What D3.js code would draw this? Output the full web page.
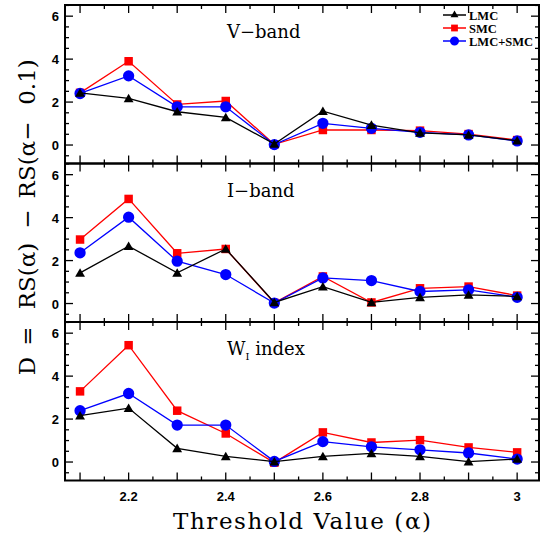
<!DOCTYPE html>
<html>
<head>
<meta charset="utf-8">
<script src="https://cdn.jsdelivr.net/npm/d3@7"></script>
<style>
  body { margin: 0; background: #fff; }
  svg { display: block; }
</style>
</head>
<body>
<svg id="chart" width="540" height="537"></svg>
<script>
// threshold values on the x axis
const alphas = [2.1, 2.2, 2.3, 2.4, 2.5, 2.6, 2.7, 2.8, 2.9, 3.0];
const xTickLabels = [2.2, 2.4, 2.6, 2.8, 3];
const yTickLabels = [0, 2, 4, 6];

// V-band
const vLMC = [2.43, 2.17, 1.55, 1.29, 0.05, 1.58, 0.93, 0.57, 0.47, 0.2];
const vSMC = [2.43, 3.9, 1.89, 2.05, 0.03, 0.7, 0.7, 0.67, 0.51, 0.23];
const vAll = [2.4, 3.22, 1.78, 1.78, 0.02, 1.01, 0.78, 0.59, 0.47, 0.19];

// I-band
const iLMC = [1.43, 2.67, 1.43, 2.54, 0.05, 0.79, 0.05, 0.29, 0.4, 0.33];
const iSMC = [2.98, 4.87, 2.34, 2.54, 0.03, 1.26, 0.05, 0.71, 0.79, 0.37];
const iAll = [2.36, 4.02, 1.97, 1.35, 0.02, 1.19, 1.07, 0.56, 0.64, 0.29];

// W_I index
const wLMC = [2.16, 2.51, 0.64, 0.26, 0.02, 0.26, 0.4, 0.26, 0.02, 0.14];
const wSMC = [3.29, 5.44, 2.39, 1.33, -0.03, 1.38, 0.91, 1.02, 0.68, 0.45];
const wAll = [2.39, 3.19, 1.72, 1.72, 0.03, 0.95, 0.71, 0.57, 0.42, 0.14];

const seriesNames = ["LMC", "SMC", "LMC+SMC"];

const panels = [
  { label: "V\u2212band", top: 5, lmc: vLMC, smc: vSMC, all: vAll },
  { label: "I\u2212band", top: 163.5, lmc: iLMC, smc: iSMC, all: iAll },
  { label: "W", sub: "I", rest: " index", top: 322, lmc: wLMC, smc: wSMC, all: wAll }
];

const svg = d3.select("#chart");
const left = 65, right = 539, ph = 158.5;

let x = d3.scaleLinear().domain([2.069, 3.045]).range([left, right]);

const sym = {
  LMC: d3.symbol().type(d3.symbolTriangle).size(42),
  SMC: d3.symbol().type(d3.symbolSquare).size(72),
  "LMC+SMC": d3.symbol().type(d3.symbolCircle).size(100)
};
const col = { LMC: "#000", SMC: "#ff0000", "LMC+SMC": "#0000ff" };

panels.forEach(function (p, i) {
  let y = d3.scaleLinear().domain([-0.86, 6.52]).range([p.top + ph, p.top]);
  let g = svg.append("g");

  // ticks, all pointing inward
  let tk = g.append("g").attr("stroke", "#000").attr("stroke-width", 1.3);
  d3.range(-0.5, 6.51, 0.5).forEach(function (v) {
    let major = Math.abs(v % 2) < 1e-6;
    let len = major ? 8 : 4;
    tk.append("line").attr("x1", left).attr("x2", left + len).attr("y1", y(v)).attr("y2", y(v));
    tk.append("line").attr("x1", right).attr("x2", right - len).attr("y1", y(v)).attr("y2", y(v));
  });
  d3.range(2.1, 3.04, 0.05).forEach(function (v) {
    let major = Math.abs(Math.round(v * 20) % 2) === 0;
    let len = major ? 8 : 4;
    tk.append("line").attr("x1", x(v)).attr("x2", x(v)).attr("y1", p.top + ph).attr("y2", p.top + ph - len);
    tk.append("line").attr("x1", x(v)).attr("x2", x(v)).attr("y1", p.top).attr("y2", p.top + len);
  });

  // y labels
  g.selectAll("text.yt").data(yTickLabels).enter().append("text")
    .attr("x", 59).attr("y", function (d) { return y(d) + 5; })
    .attr("text-anchor", "end")
    .style("font", "bold 13px 'Liberation Sans', Arial, sans-serif")
    .text(function (d) { return d; });

  // frame
  g.append("rect").attr("x", left).attr("y", p.top).attr("width", right - left).attr("height", ph)
    .attr("fill", "none").attr("stroke", "#000").attr("stroke-width", 2);

  // lines + markers, SMC first then combined then LMC
  [["SMC", p.smc], ["LMC+SMC", p.all], ["LMC", p.lmc]].forEach(function (s) {
    let vals = s[1];
    let line = d3.line().x(function (d, j) { return x(alphas[j]); }).y(function (d) { return y(d); });
    g.append("path").attr("d", line(vals)).attr("fill", "none")
      .attr("stroke", col[s[0]]).attr("stroke-width", 1.3);
    g.selectAll(null).data(vals).enter().append("path")
      .attr("d", sym[s[0]])
      .attr("transform", function (d, j) {
        let dy = s[0] === "LMC" ? 1 : 0;
        return "translate(" + x(alphas[j]) + "," + (y(d) + dy) + ")";
      })
      .attr("fill", col[s[0]]);
  });

  // panel label
  let t = g.append("text").attr("x", 227).attr("y", p.top + 33)
    .style("font", "18px 'DejaVu Serif', serif");
  t.append("tspan").text(p.label);
  if (p.sub) {
    t.append("tspan").attr("dy", 5).style("font-size", "10px").text(p.sub);
    t.append("tspan").attr("dy", -5).text(p.rest);
  }
});

// x tick labels under the bottom panel
svg.selectAll("text.xt").data(xTickLabels).enter().append("text")
  .attr("x", function (d) { return x(d); }).attr("y", 501)
  .attr("text-anchor", "middle")
  .style("font", "bold 13px 'Liberation Sans', Arial, sans-serif")
  .text(function (d) { return d; });

// axis titles
svg.append("text").attr("x", 302).attr("y", 529).attr("text-anchor", "middle")
  .style("font", "23px 'DejaVu Serif', serif")
  .attr("textLength", 258)
  .text("Threshold Value (\u03b1)");

// y title: pieces spaced out like the original (centres along the axis)
const yTitleParts = ["D", "=", "RS(\u03b1)", "\u2212", "RS(\u03b1\u2212", "0.1)"];
const yTitlePos = [366, 336, 276, 219, 160, 82];
let yt = svg.append("text").attr("transform", "translate(35,0) rotate(-90)")
  .attr("text-anchor", "middle")
  .style("font", "23px 'DejaVu Serif', serif");
yTitleParts.forEach(function (s, i) {
  yt.append("tspan").attr("x", -yTitlePos[i]).attr("y", 0).text(s);
});

// legend
let lg = svg.append("g");
seriesNames.forEach(function (n, i) {
  let ly = 15 + i * 13;
  lg.append("line").attr("x1", 443).attr("x2", 466).attr("y1", ly).attr("y2", ly)
    .attr("stroke", col[n]).attr("stroke-width", 1.5);
  lg.append("path").attr("d", sym[n]).attr("transform", "translate(454.5," + ly + ") scale(0.8)").attr("fill", col[n]);
  lg.append("text").attr("x", 469).attr("y", ly + 5)
    .style("font", "bold 12.5px 'Liberation Serif', serif")
    .text(n);
});
</script>
</body>
</html>
